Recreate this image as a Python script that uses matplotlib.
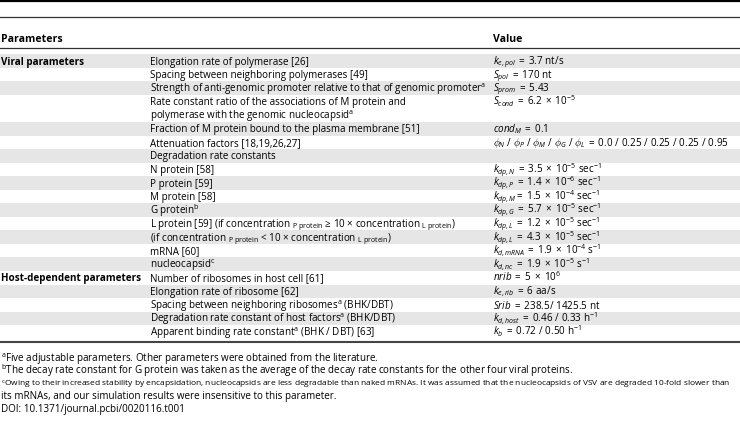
import matplotlib
matplotlib.use("Agg")
import matplotlib.pyplot as plt

plt.rcParams['font.family'] = ['Open Sans', 'DejaVu Sans']
plt.rcParams['mathtext.fontset'] = 'custom'
plt.rcParams['mathtext.rm'] = 'Open Sans'
plt.rcParams['mathtext.it'] = 'Open Sans:italic'
plt.rcParams['mathtext.bf'] = 'Open Sans:bold'

# table content
headers = ["Parameters", "Value"]
groups = {0: "Viral parameters", 15: "Host-dependent parameters"}

params = [
    "Elongation rate of polymerase [26]",
    "Spacing between neighboring polymerases [49]",
    "Strength of anti-genomic promoter relative to that of genomic promoter$^{\\mathrm{a}}$",
    "Rate constant ratio of the associations of M protein and\npolymerase with the genomic nucleocapsid$^{\\mathrm{a}}$",
    "Fraction of M protein bound to the plasma membrane [51]",
    "Attenuation factors [18,19,26,27]",
    "Degradation rate constants",
    "N protein [58]",
    "P protein [59]",
    "M protein [58]",
    "G protein$^{\\mathrm{b}}$",
    "L protein [59] (if concentration $_{\\mathrm{P\\ protein}}$ \u2265 10 \u00d7 concentration $_{\\mathrm{L\\ protein}}$)",
    "(if concentration $_{\\mathrm{P\\ protein}}$ < 10 \u00d7 concentration $_{\\mathrm{L\\ protein}}$)",
    "mRNA [60]",
    "nucleocapsid$^{\\mathrm{c}}$",
    "Number of ribosomes in host cell [61]",
    "Elongation rate of ribosome [62]",
    "Spacing between neighboring ribosomes$^{\\mathrm{a}}$ (BHK/DBT)",
    "Degradation rate constant of host factors$^{\\mathrm{a}}$ (BHK/DBT)",
    "Apparent binding rate constant$^{\\mathrm{a}}$ (BHK / DBT) [63]",
]

values = [
    r"$k_{e,pol}\;=\;\mathrm{3.7\ nt/s}$",
    r"$S_{pol}\;=\;\mathrm{170\ nt}$",
    r"$S_{prom}\;=\;\mathrm{5.43}$",
    r"$S_{cond}\;=\;\mathrm{6.2}\;\times\;\mathrm{10}^{-5}$",
    r"$cond_M\;=\;\mathrm{0.1}$",
    r"$\phi_N\ /\ \phi_P\ /\ \phi_M\ /\ \phi_G\ /\ \phi_L\;=\;\mathrm{0.0\ /\ 0.25\ /\ 0.25\ /\ 0.25\ /\ 0.95}$",
    "",
    r"$k_{dp,N}\;=\;\mathrm{3.5}\;\times\;\mathrm{10}^{-5}\ \mathrm{sec}^{-1}$",
    r"$k_{dp,P}\;=\;\mathrm{1.4}\;\times\;\mathrm{10}^{-6}\ \mathrm{sec}^{-1}$",
    r"$k_{dp,M}=\;\mathrm{1.5}\;\times\;\mathrm{10}^{-4}\ \mathrm{sec}^{-1}$",
    r"$k_{dp,G}\;=\;\mathrm{5.7}\;\times\;\mathrm{10}^{-5}\ \mathrm{sec}^{-1}$",
    r"$k_{dp,L}\;=\;\mathrm{1.2}\;\times\;\mathrm{10}^{-5}\ \mathrm{sec}^{-1}$",
    r"$k_{dp,L}\;=\;\mathrm{4.3}\;\times\;\mathrm{10}^{-5}\ \mathrm{sec}^{-1}$",
    r"$k_{d,mRNA}\;=\;\mathrm{1.9}\;\times\;\mathrm{10}^{-4}\ \mathrm{s}^{-1}$",
    r"$k_{d,nc}\;=\;\mathrm{1.9}\;\times\;\mathrm{10}^{-5}\ \mathrm{s}^{-1}$",
    r"$nrib\;=\;\mathrm{5}\;\times\;\mathrm{10}^{6}$",
    r"$k_{e,rib}\;=\;\mathrm{6\ aa/s}$",
    r"$Srib\;=\;\mathrm{238.5/\ 1425.5\ nt}$",
    r"$k_{d,host}\;=\;\mathrm{0.46\ /\ 0.33\ h}^{-1}$",
    r"$k_b\;=\;\mathrm{0.72\ /\ 0.50\ h}^{-1}$",
]

footnotes = [
    "$^{\\mathrm{a}}$Five adjustable parameters. Other parameters were obtained from the literature.",
    "$^{\\mathrm{b}}$The decay rate constant for G protein was taken as the average of the decay rate constants for the other four viral proteins.",
    "$^{\\mathrm{c}}$Owing to their increased stability by encapsidation, nucleocapsids are less degradable than naked mRNAs. It was assumed that the nucleocapsids of VSV are degraded 10-fold slower than",
    "its mRNAs, and our simulation results were insensitive to this parameter.",
    "DOI: 10.1371/journal.pcbi/0020116.t001",
]

W, H = 740, 426
fig = plt.figure(figsize=(W / 100, H / 100), dpi=100)
ax = fig.add_axes([0, 0, 1, 1])
ax.set_xlim(0, W)
ax.set_ylim(H, 0)
ax.axis('off')

fs = 7.15
pitch = 13.55
x0, x1, x2 = 1, 150, 493
base = 3.6  # baseline offset below the line centre

# rules
ax.axhline(0.9, color='black', lw=1.6)
ax.axhline(16.8, color='#333333', lw=0.9)
ax.axhline(47.8, color='#333333', lw=0.9)
ax.axhline(342, color='#444444', lw=1.5)

ax.text(x0, 38 + base, headers[0], fontsize=fs + 0.4, fontweight='bold', va='baseline')
ax.text(x2, 38 + base, headers[1], fontsize=fs + 0.4, fontweight='bold', va='baseline')

y = 61
for i, (p, v) in enumerate(zip(params, values)):
    nl = p.count("\n") + 1
    top = y - pitch / 2
    bot = y + (nl - 1) * pitch + pitch / 2
    if i % 2 == 0:
        ax.axhspan(top, bot, color='#e6e6e6', lw=0, zorder=0)
    if i in groups:
        ax.text(x0, y + base, groups[i], fontsize=fs, fontweight='bold', va='baseline')
    for k, line in enumerate(p.split("\n")):
        ax.text(x1, y + k * pitch + base, line, fontsize=fs, va='baseline')
    if v:
        ax.text(x2, y + base, v, fontsize=fs, va='baseline')
    y += nl * pitch

fy = 358
for j, f in enumerate(footnotes):
    # the third footnote is set tighter in the source to fit on one line
    ax.text(x0, fy + base, f, fontsize=6.0 if j == 2 else fs, va='baseline')
    fy += 12.6

fig.savefig("out.png", dpi=100)
